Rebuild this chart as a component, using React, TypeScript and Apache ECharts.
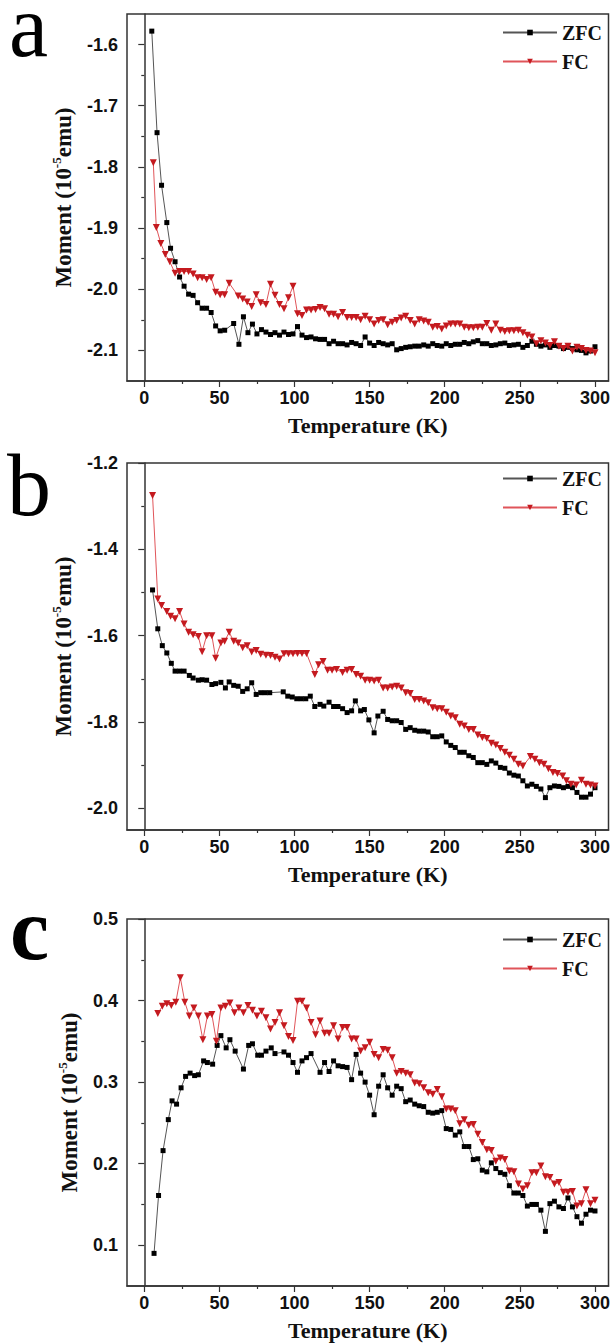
import { useEffect, useRef } from "react";
import * as echarts from "echarts";

// ---------- Data (Temperature K, Moment 10^-5 emu) ----------
const zfcA: [number, number][] = [
  [5, -1.578], [8.5, -1.744], [11.5, -1.83], [15, -1.891], [17.5, -1.933], [20.5, -1.955], [23.5, -1.98], [26.5, -1.995], [29.5, -2.008], [32.5, -2.01],
  [35.5, -2.022], [38.5, -2.031], [41.5, -2.031], [44.5, -2.038], [47.5, -2.06], [50.5, -2.068], [53.5, -2.067], [59.5, -2.056], [63, -2.09], [66, -2.045],
  [69, -2.071], [72, -2.057], [75, -2.073], [78, -2.066], [81, -2.07], [84, -2.074], [87, -2.071], [90, -2.075], [93, -2.07], [96, -2.074],
  [99, -2.073], [102, -2.061], [105, -2.075], [108, -2.079], [111, -2.078], [114, -2.081], [117, -2.082], [120, -2.082], [123, -2.089], [126, -2.085],
  [129, -2.089], [132, -2.089], [135, -2.091], [138, -2.087], [141, -2.089], [144, -2.092], [147, -2.078], [150, -2.088], [153, -2.092], [156, -2.087],
  [159, -2.089], [162, -2.091], [165, -2.089], [168, -2.099], [171, -2.097], [174, -2.095], [177, -2.094], [180, -2.093], [183, -2.093], [186, -2.091],
  [189, -2.093], [192, -2.089], [195, -2.092], [198, -2.093], [201, -2.089], [204, -2.092], [207, -2.09], [210, -2.09], [213, -2.087], [216, -2.089],
  [219, -2.086], [222, -2.084], [225, -2.089], [228, -2.089], [231, -2.092], [234, -2.091], [237, -2.089], [240, -2.088], [243, -2.092], [246, -2.091],
  [249, -2.09], [252, -2.095], [255, -2.092], [258, -2.085], [261, -2.09], [264, -2.093], [267, -2.091], [270, -2.095], [273, -2.092], [276, -2.093],
  [279, -2.097], [282, -2.095], [285, -2.097], [288, -2.099], [291, -2.1], [294, -2.104], [297, -2.101], [300, -2.094],
];

const fcA: [number, number][] = [
  [6, -1.793], [8, -1.899], [11, -1.925], [14, -1.943], [17, -1.955], [20.5, -1.974], [23.5, -1.971], [26.5, -1.971], [29.5, -1.971], [32.5, -1.975],
  [35.5, -1.981], [38.5, -1.981], [41.5, -1.984], [44.5, -1.981], [47.5, -2.005], [50.5, -2.009], [53.5, -2.009], [56.5, -1.99], [62.5, -2.011], [65.5, -2.016],
  [68.5, -2.021], [71.5, -2.028], [74.5, -2.009], [77.5, -2.022], [81, -2.025], [84, -1.992], [87, -2.01], [90, -2.025], [93, -2.032], [96, -2.014],
  [99, -1.995], [102, -2.04], [105, -2.043], [108, -2.034], [111, -2.034], [114, -2.033], [117, -2.03], [120, -2.032], [123, -2.041], [126, -2.041],
  [129, -2.045], [132, -2.038], [135, -2.046], [138, -2.046], [141, -2.046], [144, -2.05], [147, -2.044], [150, -2.05], [153, -2.057], [156, -2.051],
  [159, -2.05], [162, -2.058], [165, -2.054], [168, -2.051], [171, -2.047], [174, -2.044], [177, -2.051], [180, -2.057], [183, -2.05], [186, -2.052],
  [189, -2.054], [192, -2.062], [195, -2.061], [198, -2.065], [201, -2.06], [204, -2.057], [207, -2.057], [210, -2.057], [213, -2.062], [216, -2.063],
  [219, -2.063], [222, -2.062], [225, -2.062], [228, -2.056], [231, -2.067], [234, -2.057], [237, -2.067], [240, -2.069], [243, -2.068], [246, -2.068],
  [249, -2.067], [252, -2.071], [255, -2.075], [258, -2.078], [261, -2.089], [264, -2.084], [267, -2.088], [270, -2.092], [273, -2.086], [276, -2.093],
  [279, -2.097], [282, -2.093], [285, -2.101], [288, -2.095], [291, -2.097], [294, -2.1], [297, -2.101], [300, -2.104],
];

const zfcB: [number, number][] = [
  [5.5, -1.494], [9, -1.584], [12, -1.623], [15, -1.64], [18, -1.664], [20.5, -1.682], [23.5, -1.682], [26.5, -1.682], [30, -1.692], [32.5, -1.698],
  [36, -1.703], [38.5, -1.702], [41.5, -1.703], [45, -1.713], [47.5, -1.711], [51, -1.708], [54, -1.721], [56.5, -1.707], [59.5, -1.715], [62.5, -1.717],
  [65.5, -1.729], [68.5, -1.723], [71.5, -1.709], [74.5, -1.736], [77.5, -1.732], [80.5, -1.732], [83.5, -1.732], [92.5, -1.73], [95.5, -1.74], [98.5, -1.742],
  [101.5, -1.746], [104.5, -1.746], [107.5, -1.746], [110.5, -1.74], [113.5, -1.764], [117, -1.759], [119.5, -1.763], [123, -1.754], [126, -1.764], [129, -1.764],
  [132, -1.769], [135, -1.778], [138, -1.774], [140.5, -1.751], [144, -1.774], [146.5, -1.771], [149.5, -1.795], [153, -1.825], [155.5, -1.786], [159, -1.775],
  [162, -1.794], [165, -1.797], [168, -1.797], [171, -1.801], [174, -1.817], [177, -1.813], [180, -1.819], [183, -1.821], [186, -1.821], [189, -1.823],
  [192, -1.834], [195, -1.834], [198, -1.832], [201, -1.846], [204, -1.854], [207, -1.859], [210, -1.87], [213, -1.87], [216, -1.878], [219, -1.882],
  [222, -1.894], [225, -1.894], [228, -1.898], [231, -1.89], [234, -1.895], [237, -1.905], [240, -1.907], [243, -1.918], [246, -1.923], [249, -1.925],
  [252, -1.936], [255, -1.948], [258, -1.944], [261, -1.949], [264, -1.955], [267, -1.975], [270, -1.952], [273, -1.948], [276, -1.949], [279, -1.952],
  [282, -1.949], [285, -1.952], [288, -1.963], [291, -1.974], [294, -1.974], [297, -1.967], [300, -1.952],
];

const fcB: [number, number][] = [
  [5.5, -1.275], [9, -1.515], [11.5, -1.53], [15, -1.544], [17.5, -1.555], [20.5, -1.561], [23.5, -1.544], [26.5, -1.573], [29.5, -1.592], [32.5, -1.598],
  [36, -1.602], [38.5, -1.637], [41.5, -1.6], [45, -1.6], [47.5, -1.652], [51, -1.617], [53.5, -1.613], [56.5, -1.592], [59.5, -1.613], [62.5, -1.617],
  [65.5, -1.628], [68.5, -1.623], [71.5, -1.638], [74.5, -1.634], [77.5, -1.643], [81, -1.645], [84, -1.646], [87, -1.65], [90, -1.654], [93, -1.642],
  [96, -1.642], [99, -1.642], [102, -1.641], [105, -1.641], [108, -1.641], [113.5, -1.69], [116, -1.667], [119, -1.66], [122, -1.68], [125, -1.68],
  [128, -1.678], [132, -1.685], [135, -1.68], [138, -1.678], [141, -1.69], [144, -1.694], [147, -1.703], [150, -1.703], [153, -1.705], [156, -1.703],
  [159, -1.721], [162, -1.721], [165, -1.719], [168, -1.717], [171, -1.721], [174, -1.732], [177, -1.734], [180, -1.748], [183, -1.748], [186, -1.751],
  [189, -1.755], [192, -1.767], [195, -1.769], [198, -1.769], [201, -1.777], [204, -1.786], [207, -1.79], [210, -1.805], [213, -1.809], [216, -1.817],
  [219, -1.817], [222, -1.83], [225, -1.836], [228, -1.838], [231, -1.849], [234, -1.853], [237, -1.861], [240, -1.87], [243, -1.877], [246, -1.886],
  [249, -1.898], [252, -1.902], [257, -1.88], [260, -1.886], [263, -1.894], [266, -1.898], [269, -1.908], [272, -1.917], [275, -1.919], [278.5, -1.925],
  [281, -1.936], [284, -1.944], [287.5, -1.946], [291, -1.935], [294, -1.944], [297, -1.946], [300, -1.948],
];

const zfcC: [number, number][] = [
  [6.5, 0.09], [9.5, 0.161], [12.5, 0.216], [16, 0.254], [18.5, 0.277], [21.5, 0.273], [24.5, 0.293], [27.5, 0.307], [30.5, 0.311], [33.5, 0.308],
  [36, 0.309], [39.5, 0.326], [42, 0.324], [45.5, 0.322], [48.5, 0.345], [51, 0.357], [54.5, 0.342], [57, 0.352], [60.5, 0.338], [66, 0.316],
  [69.5, 0.345], [72, 0.347], [75.5, 0.333], [78, 0.333], [81, 0.338], [84.5, 0.342], [87, 0.335], [93, 0.337], [96, 0.333], [99, 0.324],
  [102, 0.312], [105, 0.326], [108, 0.33], [111, 0.335], [117, 0.312], [120, 0.324], [123, 0.313], [126, 0.326], [129, 0.32], [132, 0.319],
  [135, 0.318], [138, 0.303], [141, 0.334], [144, 0.311], [147, 0.3], [150, 0.284], [153, 0.26], [156, 0.295], [159, 0.309], [162, 0.293],
  [165, 0.284], [168, 0.295], [171, 0.292], [174, 0.276], [177, 0.278], [180, 0.273], [183, 0.271], [186, 0.27], [189, 0.263], [192, 0.262],
  [195, 0.263], [198, 0.265], [201, 0.243], [204, 0.242], [207, 0.235], [210, 0.239], [213, 0.221], [216, 0.221], [219, 0.205], [222, 0.206],
  [225, 0.192], [228, 0.19], [231, 0.201], [234, 0.194], [237, 0.189], [240, 0.187], [243, 0.173], [246, 0.164], [249, 0.164], [252, 0.161],
  [255, 0.148], [258, 0.15], [261, 0.15], [264, 0.143], [267, 0.117], [270, 0.151], [273, 0.154], [276, 0.147], [279, 0.145], [282, 0.158],
  [285, 0.147], [288, 0.135], [291, 0.127], [294, 0.138], [297, 0.143], [300, 0.142],
];

const fcC: [number, number][] = [
  [9, 0.384], [12, 0.393], [15, 0.396], [18, 0.394], [21, 0.398], [24, 0.428], [27, 0.398], [30, 0.381], [33, 0.391], [36, 0.381],
  [39, 0.352], [42, 0.381], [45, 0.383], [48, 0.35], [51, 0.391], [54, 0.393], [57, 0.397], [60, 0.385], [63, 0.391], [66, 0.385],
  [69, 0.394], [72, 0.388], [75, 0.381], [78, 0.387], [81, 0.379], [84, 0.365], [87, 0.373], [90, 0.385], [93, 0.369], [96, 0.356],
  [99, 0.351], [102, 0.399], [105, 0.399], [108, 0.391], [111, 0.373], [114, 0.358], [117, 0.375], [120, 0.36], [123, 0.36], [126, 0.369],
  [129, 0.353], [132, 0.367], [135, 0.367], [138, 0.353], [141, 0.353], [144, 0.338], [147, 0.342], [150, 0.349], [153, 0.334], [156, 0.33],
  [159, 0.34], [162, 0.339], [165, 0.33], [168, 0.311], [171, 0.313], [174, 0.311], [177, 0.309], [180, 0.299], [183, 0.298], [186, 0.293],
  [189, 0.287], [192, 0.285], [195, 0.291], [198, 0.282], [201, 0.267], [204, 0.267], [207, 0.265], [210, 0.249], [213, 0.254], [216, 0.247],
  [219, 0.248], [222, 0.236], [225, 0.226], [228, 0.217], [231, 0.216], [234, 0.203], [237, 0.207], [240, 0.205], [243, 0.191], [246, 0.19],
  [249, 0.175], [252, 0.169], [255, 0.173], [258, 0.189], [261, 0.189], [264, 0.197], [267, 0.184], [270, 0.183], [273, 0.175], [276, 0.177],
  [279, 0.165], [282, 0.165], [285, 0.166], [288, 0.148], [291, 0.151], [294, 0.168], [297, 0.151], [300, 0.155],
];

const xMajor = [0, 50, 100, 150, 200, 250, 300];
const xMinor = [25, 75, 125, 175, 225, 275];
const yMajorA = [-2.1, -2.0, -1.9, -1.8, -1.7, -1.6];
const yMinorA = [-2.05, -1.95, -1.85, -1.75, -1.65];
const yMajorB = [-2.0, -1.8, -1.6, -1.4, -1.2];
const yMinorB = [-1.9, -1.7, -1.5, -1.3];
const yMajorC = [0.1, 0.2, 0.3, 0.4, 0.5];
const yMinorC = [0.15, 0.25, 0.35, 0.45];
const panelLetters = ["a", "b", "c"];
const seriesNames = ["ZFC", "FC"];
const xTitle = "Temperature (K)";

const W = 613;
const H = 1343;

function buildOption() {
  const gridTops = [14, 463, 919];
  const legendTops = [17, 463, 924];
  const gridH = 367;
  const panels = [
    { zfc: zfcA, fc: fcA, min: -2.15, max: -1.55, major: yMajorA, minor: yMinorA },
    { zfc: zfcB, fc: fcB, min: -2.05, max: -1.2, major: yMajorB, minor: yMinorB },
    { zfc: zfcC, fc: fcC, min: 0.05, max: 0.5, major: yMajorC, minor: yMinorC },
  ];
  const axisColor = "#333";
  const labelFont = {
    fontFamily: "Liberation Sans, Arial, sans-serif",
    fontWeight: "bold" as const,
    fontSize: 18,
    color: "#111",
  };
  const titleFont = {
    fontFamily: "Liberation Serif, Times New Roman, serif",
    fontWeight: "bold" as const,
    color: "#111",
  };

  const grid: any[] = [];
  const xAxis: any[] = [];
  const yAxis: any[] = [];
  const series: any[] = [];
  const legend: any[] = [];

  panels.forEach((p, i) => {
    grid.push({
      left: 127,
      top: gridTops[i],
      width: 484,
      height: gridH,
      show: true,
      borderColor: axisColor,
      borderWidth: 1.5,
      backgroundColor: "transparent",
    });
    xAxis.push({
      type: "value",
      gridIndex: i,
      min: -11.5,
      max: 309,
      position: "bottom",
      name: xTitle,
      nameLocation: "middle",
      nameGap: 33,
      nameTextStyle: { ...titleFont, fontSize: 22 },
      axisLine: { show: true, lineStyle: { color: axisColor, width: 1.5 } },
      axisTick: { show: true, customValues: xMajor, length: 6, inside: false, lineStyle: { color: axisColor, width: 1.2 } },
      axisLabel: { show: true, customValues: xMajor, margin: 8, ...labelFont },
      splitLine: { show: false },
    });
    yAxis.push({
      type: "value",
      gridIndex: i,
      min: p.min,
      max: p.max,
      position: "left",
      name: "Moment (10{sup|-5}emu)",
      nameLocation: "middle",
      nameRotate: 90,
      nameGap: 40,
      nameTextStyle: {
        ...titleFont,
        fontSize: 23,
        lineHeight: 26,
        rich: {
          sup: { ...titleFont, fontSize: 13, lineHeight: 12, verticalAlign: "top" },
        },
      },
      axisLine: { show: true, lineStyle: { color: axisColor, width: 1.5 } },
      axisTick: { show: true, customValues: p.major, length: 6, lineStyle: { color: axisColor, width: 1.2 } },
      axisLabel: {
        show: true,
        customValues: p.major,
        margin: 9,
        ...labelFont,
        formatter: (v: number) => v.toFixed(1),
      },
      splitLine: { show: false },
    });
    series.push({
      type: "line",
      name: seriesNames[0],
      xAxisIndex: i,
      yAxisIndex: i,
      data: p.zfc,
      symbol: "rect",
      symbolSize: 5,
      itemStyle: { color: "#000" },
      lineStyle: { color: "#555", width: 1 },
      z: 2,
    });
    series.push({
      type: "line",
      name: seriesNames[1],
      xAxisIndex: i,
      yAxisIndex: i,
      data: p.fc,
      symbol: "triangle",
      symbolRotate: 180,
      symbolSize: 7,
      itemStyle: { color: "#c41a1f" },
      lineStyle: { color: "#e0555a", width: 1 },
      z: 3,
    });
    legend.push({
      orient: "vertical",
      left: 497,
      top: legendTops[i],
      itemWidth: 54,
      itemHeight: 7,
      itemGap: 8,
      selectedMode: false,
      textStyle: { ...titleFont, fontSize: 20, lineHeight: 21 },
      data: seriesNames,
    });
  });

  // minor tick axes
  panels.forEach((p, i) => {
    xAxis.push({
      type: "value",
      gridIndex: i,
      min: -11.5,
      max: 309,
      position: "bottom",
      axisLine: { show: false },
      axisTick: { show: true, customValues: xMinor, length: 3, lineStyle: { color: axisColor, width: 1.2 } },
      axisLabel: { show: false },
      splitLine: { show: false },
    });
    yAxis.push({
      type: "value",
      gridIndex: i,
      min: p.min,
      max: p.max,
      position: "left",
      axisLine: { show: false },
      axisTick: { show: true, customValues: p.minor, length: 3, lineStyle: { color: axisColor, width: 1.2 } },
      axisLabel: { show: false },
      splitLine: { show: false },
    });
  });

  const letterStyle = (bold: boolean) => ({
    fontSize: 88,
    lineHeight: 40,
    fontFamily: "Liberation Serif, Times New Roman, serif",
    fontWeight: bold ? "bold" : "normal",
    fill: "#000",
    verticalAlign: "middle",
    align: "left",
  });

  const graphic = [
    { type: "text", x: 9, y: 26, style: { text: panelLetters[0], ...letterStyle(false) } },
    { type: "text", x: 7, y: 485, style: { text: panelLetters[1], ...letterStyle(false) } },
    { type: "text", x: 10, y: 929, style: { text: panelLetters[2], ...letterStyle(true) } },
  ];

  return {
    animation: false,
    backgroundColor: "#fff",
    grid,
    xAxis,
    yAxis,
    series,
    legend,
    graphic,
  };
}

export default function App() {
  const ref = useRef<HTMLDivElement>(null);
  useEffect(() => {
    document.body.style.margin = "0";
    const el = ref.current;
    if (!el) return;
    const chart = echarts.init(el, null, { renderer: "svg", width: W, height: H });
    chart.setOption(buildOption() as any);
    return () => {
      chart.dispose();
    };
  }, []);
  return <div ref={ref} style={{ width: W, height: H }} />;
}
